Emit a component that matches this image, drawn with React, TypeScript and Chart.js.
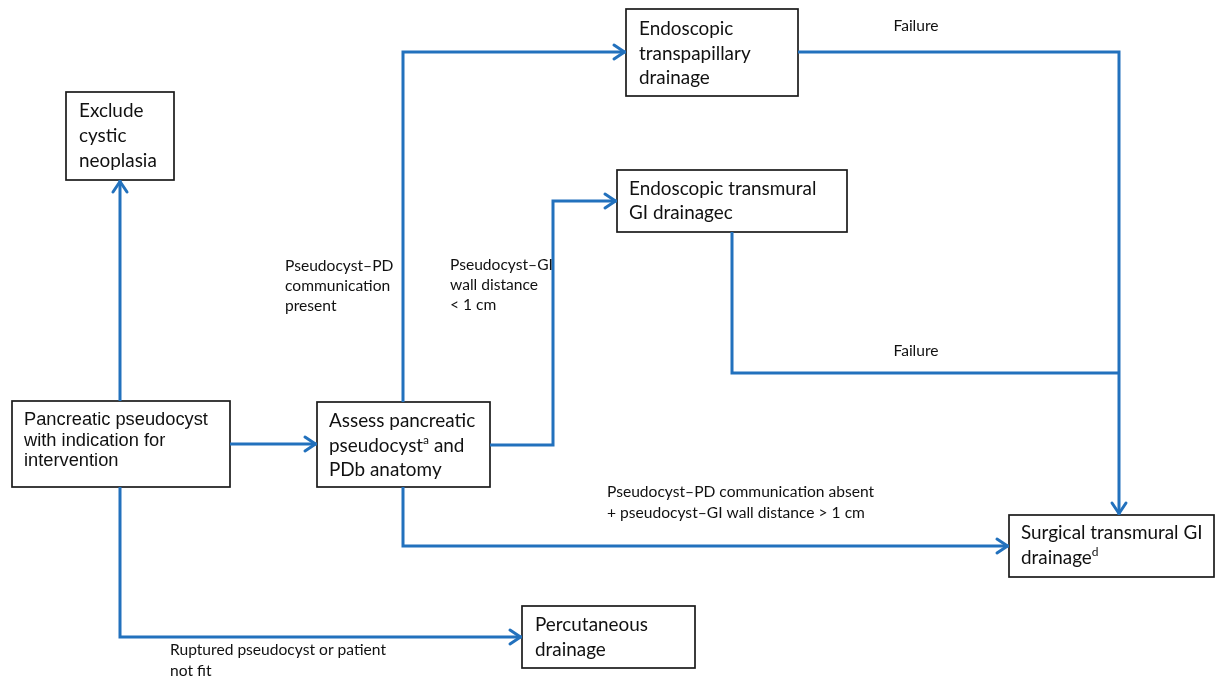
import { useEffect, useRef } from "react";
import { Chart, registerables } from "chart.js";
Chart.register(...registerables);

// ---- content ----
const nodeText: string[][] = [
  ["Exclude", "cystic", "neoplasia"],
  ["Endoscopic", "transpapillary", "drainage"],
  ["Endoscopic transmural", "GI drainagec"],
  ["Pancreatic pseudocyst", "with indication for", "intervention"],
  ["Assess pancreatic", "pseudocyst^a and", "PDb anatomy"],
  ["Percutaneous", "drainage"],
  ["Surgical transmural GI", "drainage^d"],
];
const labelText: string[][] = [
  ["Failure"],
  ["Failure"],
  ["Pseudocyst\u2013PD", "communication", "present"],
  ["Pseudocyst\u2013GI", "wall distance", "< 1 cm"],
  ["Pseudocyst\u2013PD communication absent", "+ pseudocyst\u2013GI wall distance > 1 cm"],
  ["Ruptured pseudocyst or patient", "not fit"],
];

// ---- layout (data units on a 1216 x 679 grid) ----
const boxLeft = [66, 626, 617, 12, 317, 522, 1009];
const boxRight = [174, 798, 847, 230, 490, 695, 1214];
const boxTop = [92, 9, 170, 401, 402, 606, 515];
const boxBottom = [180, 96, 232, 487, 487, 668, 577];
const nodeTextX = [79, 639, 629, 24, 329, 535, 1021];
const nodeTextY = [111, 29, 189, 420, 421, 625, 533];
const nodeLineGap = [25, 24.5, 24, 20.5, 24.5, 25, 25];

const labelX = [916, 916, 285, 450, 607, 170];
const labelY = [26, 351, 266, 265, 492, 650];
const labelAlign: CanvasTextAlign[] = ["center", "center", "left", "left", "left", "left"];
const labelGap = [20, 20, 20, 20, 21, 21];

const connectorX: number[][] = [
  [120, 120],
  [230, 317],
  [120, 120, 522],
  [403, 403, 626],
  [490, 553, 553, 617],
  [403, 403, 1009],
  [798, 1119, 1119],
  [732, 732, 1119],
];
const connectorY: number[][] = [
  [401, 180],
  [444, 444],
  [487, 637, 637],
  [402, 52, 52],
  [445, 445, 201, 201],
  [487, 546, 546],
  [52, 52, 515],
  [232, 373, 373],
];
const connectorArrow = [true, true, true, true, true, true, true, false];

const BLUE = "#2271bd";
const CAL = "Lato, 'Open Sans', sans-serif";
const ARIAL = "'Liberation Sans', Arial, sans-serif";

function drawRich(ctx: CanvasRenderingContext2D, text: string, x: number, y: number, size: number, family: string, align: CanvasTextAlign) {
  const segs: { t: string; sup: boolean }[] = [];
  let buf = "";
  for (let i = 0; i < text.length; i++) {
    if (text[i] === "^" && i + 1 < text.length) {
      if (buf) segs.push({ t: buf, sup: false });
      buf = "";
      segs.push({ t: text[i + 1], sup: true });
      i++;
    } else buf += text[i];
  }
  if (buf) segs.push({ t: buf, sup: false });
  const fontN = `${size}px ${family}`;
  const fontS = `${Math.round(size * 0.62)}px ${family}`;
  let total = 0;
  for (const s of segs) {
    ctx.font = s.sup ? fontS : fontN;
    total += ctx.measureText(s.t).width;
  }
  let cx = align === "center" ? x - total / 2 : x;
  ctx.textAlign = "left";
  ctx.textBaseline = "middle";
  for (const s of segs) {
    ctx.font = s.sup ? fontS : fontN;
    ctx.fillText(s.t, cx, s.sup ? y - size * 0.3 : y);
    cx += ctx.measureText(s.t).width;
  }
}

export default function App() {
  const ref = useRef<HTMLCanvasElement | null>(null);
  useEffect(() => {
    document.body.style.margin = "0";
    const canvas = ref.current!;
    const flowPlugin = {
      id: "flow",
      beforeDatasetsDraw(chart: any) {
        const { ctx } = chart;
        const xs = chart.scales.x, ys = chart.scales.y;
        ctx.save();
        for (let i = 0; i < boxLeft.length; i++) {
          const x0 = xs.getPixelForValue(boxLeft[i]);
          const x1 = xs.getPixelForValue(boxRight[i]);
          const y0 = ys.getPixelForValue(boxTop[i]);
          const y1 = ys.getPixelForValue(boxBottom[i]);
          ctx.fillStyle = "#ffffff";
          ctx.fillRect(x0, y0, x1 - x0, y1 - y0);
          ctx.strokeStyle = "#1a1a1a";
          ctx.lineWidth = 1.7;
          ctx.strokeRect(x0, y0, x1 - x0, y1 - y0);
        }
        ctx.restore();
      },
      afterDatasetsDraw(chart: any) {
        const { ctx } = chart;
        const xs = chart.scales.x, ys = chart.scales.y;
        ctx.save();
        // arrowheads
        ctx.strokeStyle = BLUE;
        ctx.lineWidth = 3;
        ctx.lineCap = "round";
        ctx.lineJoin = "round";
        for (let i = 0; i < connectorX.length; i++) {
          if (!connectorArrow[i]) continue;
          const n = connectorX[i].length;
          const tx = xs.getPixelForValue(connectorX[i][n - 1]);
          const ty = ys.getPixelForValue(connectorY[i][n - 1]);
          const px = xs.getPixelForValue(connectorX[i][n - 2]);
          const py = ys.getPixelForValue(connectorY[i][n - 2]);
          const ang = Math.atan2(ty - py, tx - px);
          const len = 12, half = 7;
          const bx = tx - Math.cos(ang) * len, by = ty - Math.sin(ang) * len;
          const nx = -Math.sin(ang) * half, ny = Math.cos(ang) * half;
          ctx.beginPath();
          ctx.moveTo(bx + nx, by + ny);
          ctx.lineTo(tx - Math.cos(ang) * 1.5, ty - Math.sin(ang) * 1.5);
          ctx.lineTo(bx - nx, by - ny);
          ctx.stroke();
        }
        // node text
        ctx.fillStyle = "#111111";
        for (let i = 0; i < nodeText.length; i++) {
          const fam = i === 3 ? ARIAL : CAL;
          const size = i === 3 ? 18.3 : 18.9;
          nodeText[i].forEach((line, k) => {
            drawRich(ctx, line, xs.getPixelForValue(nodeTextX[i]), ys.getPixelForValue(nodeTextY[i] + k * nodeLineGap[i]), size, fam, "left");
          });
        }
        // labels
        for (let i = 0; i < labelText.length; i++) {
          labelText[i].forEach((line, k) => {
            drawRich(ctx, line, xs.getPixelForValue(labelX[i]), ys.getPixelForValue(labelY[i] + k * labelGap[i]), 15.6, CAL, labelAlign[i]);
          });
        }
        ctx.restore();
      },
    };
    const chart = new Chart(canvas, {
      type: "scatter",
      data: {
        datasets: connectorX.map((xsArr, i) => ({
          label: `c${i}`,
          data: xsArr.map((x, k) => ({ x, y: connectorY[i][k] })),
          showLine: true,
          borderColor: BLUE,
          backgroundColor: BLUE,
          borderWidth: 3,
          pointRadius: 0,
          tension: 0,
          fill: false,
          clip: false as any,
        })),
      },
      options: {
        responsive: false,
        animation: false,
        layout: { padding: 0 },
        plugins: { legend: { display: false }, tooltip: { enabled: false } },
        scales: {
          x: { type: "linear", min: 0, max: 1216, display: false },
          y: { type: "linear", min: 0, max: 679, reverse: true, display: false },
        },
      },
      plugins: [flowPlugin],
    });
    return () => chart.destroy();
  }, []);
  return (
    <div style={{ position: "fixed", left: 0, top: 0, width: 1216, height: 679, background: "#ffffff" }}>
      <canvas ref={ref} width={1216} height={679} style={{ display: "block" }} />
    </div>
  );
}
